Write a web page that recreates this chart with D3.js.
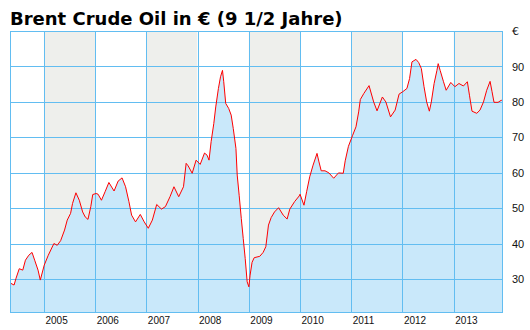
<!DOCTYPE html>
<html>
<head>
<meta charset="utf-8">
<script src="https://cdn.jsdelivr.net/npm/d3@7"></script>
<style>
  body { margin: 0; background: #fff; }
  svg { display: block; font-family: "DejaVu Sans", sans-serif; }
  .axis path { display: none; }
  .axis line { stroke: #62bdf1; }
  .axis text { fill: #111; font-size: 11px; }
  .axis.years text { font-size: 10px; }
</style>
</head>
<body>
<div id="chart"></div>
<script>
const title = "Brent Crude Oil in € (9 1/2 Jahre)";

// (EUR per barrel)
const dates = [
  "2004-05-04", "2004-06-02", "2004-06-16", "2004-07-09", "2004-08-03", "2004-08-22",
  "2004-09-15", "2004-10-08", "2004-10-27", "2004-11-20", "2004-12-06", "2005-01-03",
  "2005-02-01", "2005-03-13", "2005-04-06", "2005-04-30", "2005-05-28", "2005-06-16",
  "2005-07-10", "2005-07-24", "2005-08-17", "2005-09-10", "2005-10-04", "2005-10-22",
  "2005-11-11", "2005-12-01", "2005-12-15", "2006-01-08", "2006-01-22", "2006-02-15",
  "2006-03-13", "2006-04-09", "2006-05-16", "2006-06-14", "2006-07-12", "2006-08-06",
  "2006-08-30", "2006-09-18", "2006-10-16", "2006-11-19", "2006-12-17", "2007-01-15",
  "2007-02-13", "2007-03-16", "2007-04-19", "2007-05-17", "2007-06-19", "2007-07-17",
  "2007-08-20", "2007-09-23", "2007-10-12", "2007-10-26", "2007-11-24", "2007-12-22",
  "2008-01-20", "2008-02-20", "2008-03-09", "2008-03-23", "2008-04-07", "2008-04-26",
  "2008-05-10", "2008-05-29", "2008-06-13", "2008-06-27", "2008-07-06", "2008-07-20",
  "2008-08-10", "2008-08-28", "2008-09-12", "2008-10-01", "2008-10-10", "2008-10-24",
  "2008-11-08", "2008-11-22", "2008-12-06", "2008-12-20", "2009-01-01", "2009-01-10",
  "2009-01-24", "2009-02-08", "2009-03-20", "2009-04-13", "2009-05-02", "2009-05-21",
  "2009-06-09", "2009-07-03", "2009-08-01", "2009-09-03", "2009-10-01", "2009-10-20",
  "2009-11-23", "2009-12-26", "2010-01-01", "2010-01-29", "2010-02-17", "2010-03-11",
  "2010-04-04", "2010-05-02", "2010-05-16", "2010-06-01", "2010-06-28", "2010-07-26",
  "2010-08-29", "2010-10-02", "2010-11-05", "2010-11-19", "2010-12-12", "2011-01-11",
  "2011-02-04", "2011-02-23", "2011-03-07", "2011-04-01", "2011-05-08", "2011-06-10",
  "2011-07-04", "2011-08-11", "2011-09-05", "2011-10-08", "2011-11-10", "2011-12-08",
  "2012-01-04", "2012-02-02", "2012-02-21", "2012-03-09", "2012-04-07", "2012-04-26",
  "2012-05-15", "2012-06-03", "2012-06-22", "2012-07-11", "2012-07-25", "2012-08-14",
  "2012-09-03", "2012-09-12", "2012-09-26", "2012-10-20", "2012-11-08", "2012-12-11",
  "2013-01-09", "2013-02-07", "2013-03-11", "2013-04-08", "2013-04-23", "2013-05-11",
  "2013-06-14", "2013-07-07", "2013-08-01", "2013-08-24", "2013-09-17", "2013-10-01",
  "2013-10-15", "2013-11-13", "2013-12-07", "2013-12-11"
];
const prices = [
  29.0, 28.4, 30.3, 33.0, 32.6, 35.4,
  36.8, 37.6, 35.4, 32.6, 29.8, 34.0,
  36.8, 40.1, 39.6, 40.9, 43.9, 46.7,
  48.6, 51.4, 54.4, 52.3, 49.0, 47.6,
  46.9, 50.5, 53.9, 54.2, 54.0, 52.3,
  54.7, 57.3, 54.9, 57.7, 58.6, 56.1,
  51.9, 48.1, 46.2, 48.3, 46.2, 44.4,
  46.7, 51.1, 49.8, 50.5, 53.3, 56.1,
  53.3, 56.1, 62.7, 62.0, 59.9, 63.6,
  62.4, 65.6, 65.0, 63.6, 68.8, 73.9,
  78.6, 83.8, 87.1, 88.9, 85.7, 79.6,
  78.2, 76.3, 72.5, 66.9, 59.4, 53.7,
  47.2, 41.5, 35.9, 29.3, 27.9, 31.2,
  34.8, 36.1, 36.5, 37.6, 39.2, 45.3,
  47.4, 49.0, 50.2, 48.1, 47.0, 49.8,
  51.9, 53.5, 54.0, 50.9, 54.7, 58.9,
  62.2, 65.5, 63.1, 60.6, 60.6, 60.0,
  58.5, 60.0, 59.9, 63.4, 67.5, 70.6,
  73.0, 77.2, 80.7, 82.4, 84.6, 80.0,
  77.5, 81.4, 80.0, 75.8, 77.7, 82.2,
  82.9, 83.8, 86.6, 91.3, 92.0, 91.1,
  89.4, 84.3, 80.0, 77.4, 80.0, 85.2,
  88.9, 90.8, 88.9, 85.7, 83.3, 85.5,
  84.3, 85.2, 84.5, 85.7, 81.9, 77.4,
  76.8, 77.7, 80.0, 83.3, 85.8, 82.9,
  79.9, 79.9, 80.5, 80.3
];
const yTicks = [30, 40, 50, 60, 70, 80, 90];
const yearTicks = [2005, 2006, 2007, 2008, 2009, 2010, 2011, 2012, 2013];

const width = 530, height = 330;
const margin = { top: 31, right: 28, bottom: 18, left: 10 };
const w = width - margin.left - margin.right;
const h = height - margin.top - margin.bottom;

const parse = d3.timeParse("%Y-%m-%d");
const data = dates.map((d, i) => ({ date: parse(d), value: prices[i] }));

const x = d3.scaleTime().domain(d3.extent(data, d => d.date)).range([0, w]);
const y = d3.scaleLinear().domain([20.8, 100]).range([h, 0]);

const svg = d3.select("#chart").append("svg")
  .attr("width", width).attr("height", height);

svg.append("text")
  .attr("x", 10).attr("y", 25)
  .attr("font-size", 18).attr("font-weight", "bold")
  .attr("fill", "#000")
  .text(title);

const g = svg.append("g").attr("transform", `translate(${margin.left},${margin.top})`);

// alternating year bands
const x0 = x.domain()[0], x1 = x.domain()[1];
const bands = [x0].concat(yearTicks.map(yr => new Date(yr, 0, 1)));
g.selectAll(".band").data(bands).join("rect")
  .attr("x", d => x(d))
  .attr("y", 0)
  .attr("width", (d, i) => x(i + 1 < bands.length ? bands[i + 1] : x1) - x(d))
  .attr("height", h)
  .attr("fill", (d, i) => i % 2 ? "#eeefec" : "#fff");

const area = d3.area()
  .x(d => x(d.date)).y0(h).y1(d => y(d.value));
g.append("path").datum(data)
  .attr("d", area).attr("fill", "#c9e8fa");

// grid + labels
g.append("g").attr("class", "axis")
  .attr("transform", `translate(${w},0)`)
  .call(d3.axisRight(y).tickValues(yTicks).tickSize(-w).tickPadding(10))
  .call(s => s.selectAll("line").attr("shape-rendering", "crispEdges"));

g.append("g").attr("class", "axis years")
  .attr("transform", `translate(0,${h})`)
  .call(d3.axisBottom(x)
    .tickValues(yearTicks.map(yr => new Date(yr, 0, 1)))
    .tickFormat(d3.timeFormat("%Y"))
    .tickSize(-h).tickPadding(5))
  .call(s => s.selectAll("line").attr("shape-rendering", "crispEdges"))
  .call(s => s.selectAll("text").attr("text-anchor", "start").attr("dx", 1));

g.append("text")
  .attr("x", w + 10).attr("y", 0).attr("dy", "0.32em")
  .attr("font-size", 11).attr("fill", "#111")
  .text("€");

g.append("path").datum(data)
  .attr("d", d3.line().x(d => x(d.date)).y(d => y(d.value)))
  .attr("fill", "none").attr("stroke", "#ff0000").attr("stroke-width", 1);

g.append("rect")
  .attr("x", 0).attr("y", 0).attr("width", w).attr("height", h)
  .attr("fill", "none").attr("stroke", "#62bdf1").attr("shape-rendering", "crispEdges");
</script>
</body>
</html>
